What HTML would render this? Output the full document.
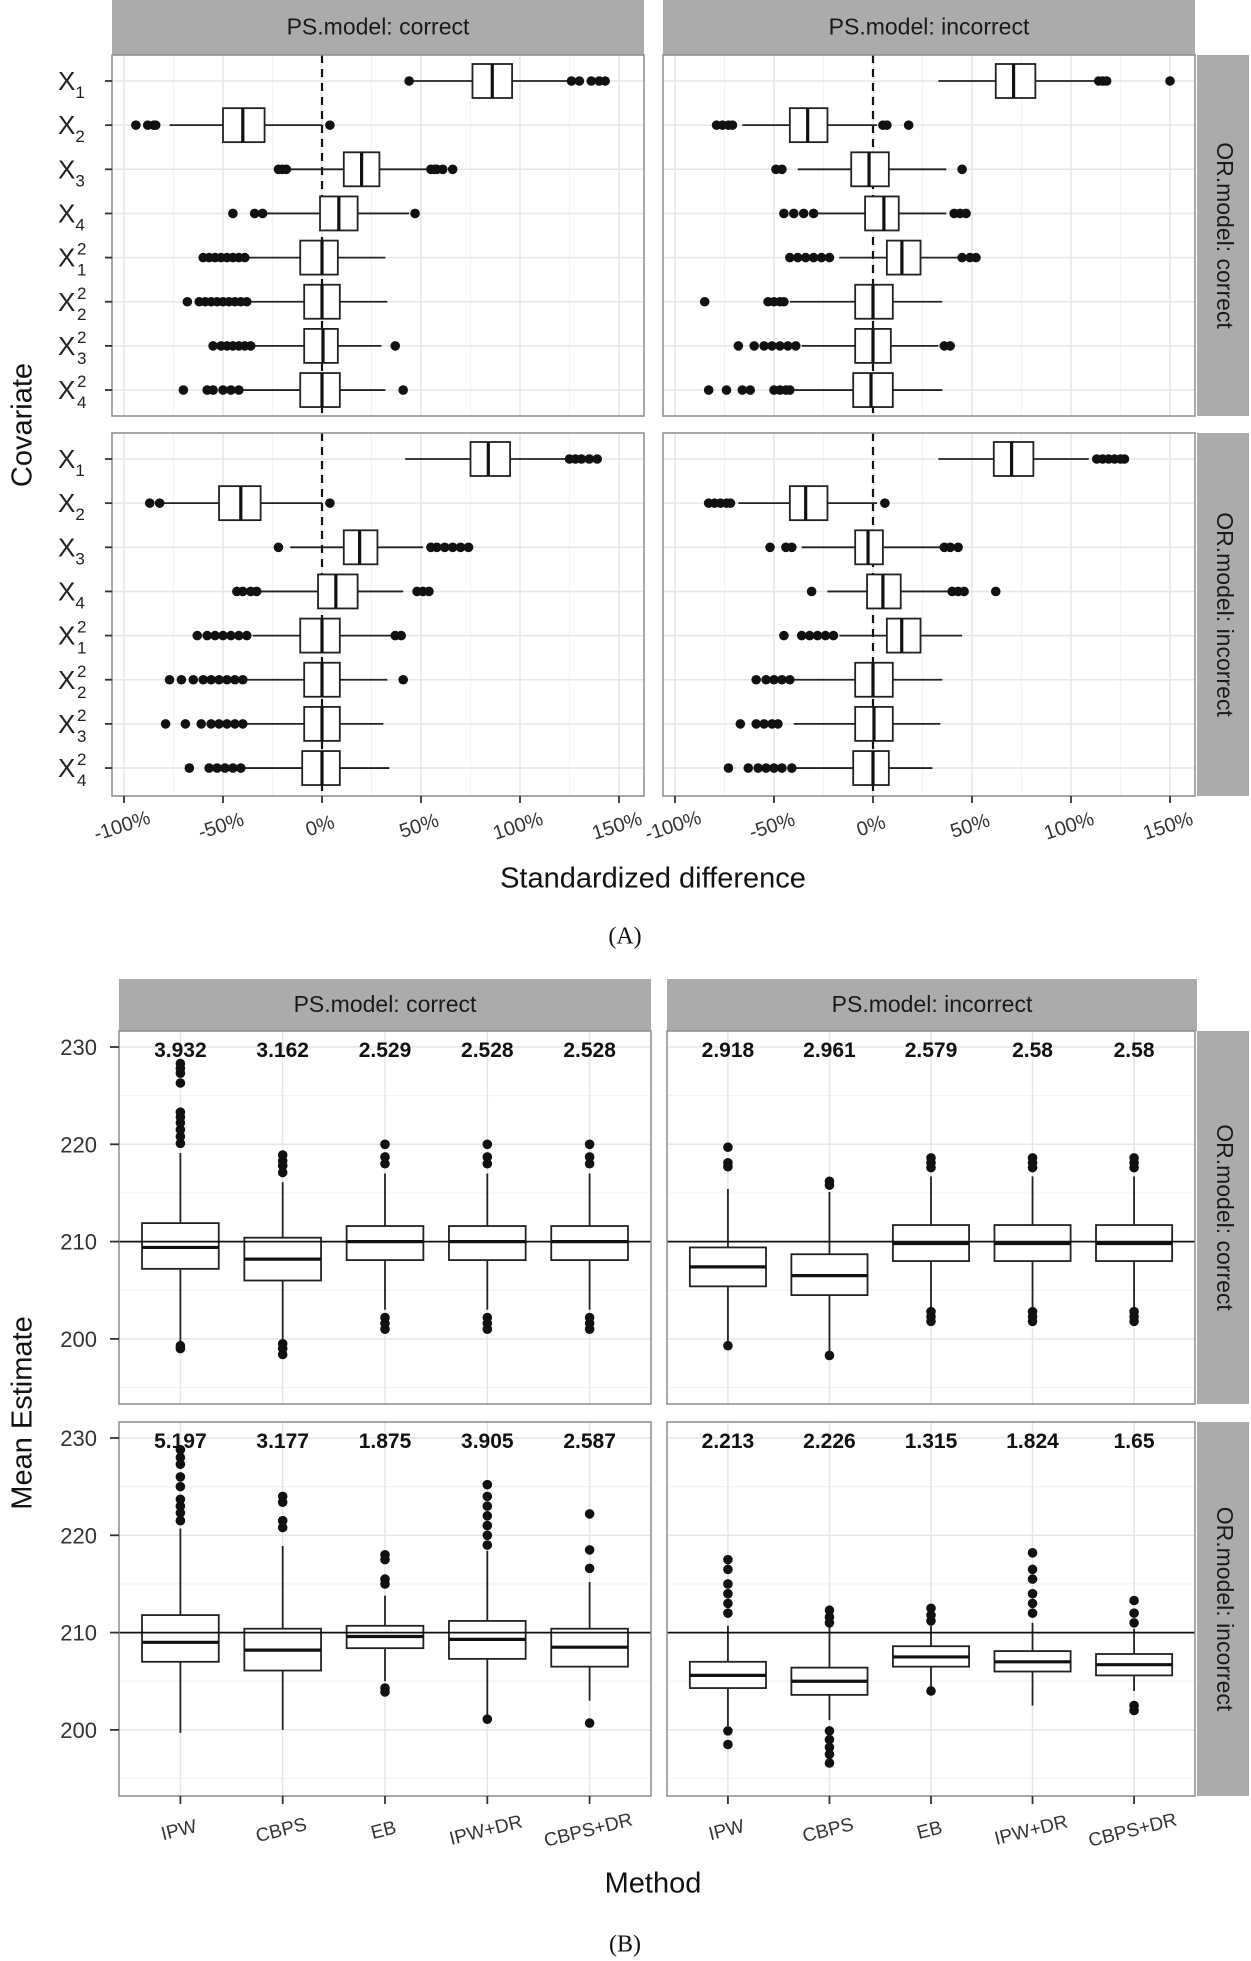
<!DOCTYPE html>
<html>
<head>
<meta charset="utf-8">
<style>
html,body{margin:0;padding:0;background:#fff;}
svg{display:block;font-family:"Liberation Sans",sans-serif;}
</style>
</head>
<body>
<svg id="fig" width="1251" height="1961" viewBox="0 0 1251 1961" xmlns="http://www.w3.org/2000/svg">
  <rect x="0" y="0" width="1251" height="1961" fill="#fff"/>
  <text x="0" y="0" transform="translate(24,425) rotate(-90)" font-size="29" text-anchor="middle" dominant-baseline="middle" fill="#111">Covariate</text>
  <text x="653" y="880" font-size="29" text-anchor="middle" dominant-baseline="middle" fill="#111">Standardized difference</text>
  <text x="625" y="938" font-size="24" text-anchor="middle" dominant-baseline="middle" font-family="Liberation Serif, serif" fill="#111">(A)</text>
  <text x="0" y="0" transform="translate(24,1413) rotate(-90)" font-size="29" text-anchor="middle" dominant-baseline="middle" fill="#111">Mean Estimate</text>
  <text x="653" y="1885" font-size="29" text-anchor="middle" dominant-baseline="middle" fill="#111">Method</text>
  <text x="625" y="1946" font-size="24" text-anchor="middle" dominant-baseline="middle" font-family="Liberation Serif, serif" fill="#111">(B)</text>
</svg>
<script>
// ---------- Part A data ----------
const covIndex = ['1','2','3','4','1','2','3','4'];
const covSquared = [false,false,false,false,true,true,true,true];
const aTicks = [-100,-50,0,50,100,150];
const aTickLabels = ['-100%','-50%','0%','50%','100%','150%'];
// [lower whisker, q1, median, q3, upper whisker]
const statsA_psC_orC = [[44,76,86,96,126],[-77,-50,-40,-29,0],[-16,11,20,29,54],[-28,-1,8.5,18,44],[-37,-11,0,8,32],[-37,-9,0,9,33],[-36,-9,0.5,8,30],[-42,-11,0,9,32]];
const outA_psC_orC = [[44,126,130,136,140,143],[-94,-88,-85,-84,4],[-22,-20,-18,55,57,58,61,66],[-45,-34,-30,47],[-60,-57,-54,-51,-48,-45,-42,-39],[-68,-62,-59,-56,-53,-50,-47,-44,-41,-38],[-55,-51,-48,-45,-42,-39,-36,37],[-70,-58,-55,-50,-46,-42,41]];
const statsA_psI_orC = [[33,62,71,82,113],[-66,-42,-33,-23,2],[-38,-11,-2,8,37],[-28,-4,5.5,13,37],[-17,7,14.6,24,43],[-42,-9,0,10,35],[-36,-9,0,9,33],[-40,-10,-1,10,35]];
const outA_psI_orC = [[114,116,118,150],[-79,-76,-73,-71,5,7,18],[-49,-46,45],[-45,-40,-35,-30,41,44,47],[-42,-38,-34,-30,-26,-22,45,49,52],[-85,-53,-50,-47,-45],[-68,-60,-55,-51,-47,-43,-39,36,39],[-83,-74,-66,-62,-50,-47,-44,-42]];
const statsA_psC_orI = [[42,75,84,95,123],[-80,-52,-41,-31,0],[-16,11,19,28,51],[-31,-2,7,18,41],[-35,-11,0,9,35],[-38,-9,0,9,33],[-38,-9,0,9,31],[-39,-10,0,9,34]];
const outA_psC_orI = [[125,128,131,135,139],[-87,-82,4],[-22,55,58,62,66,70,74],[-43,-40,-36,-33,48,51,54],[-63,-58,-54,-50,-46,-42,-38,37,40],[-77,-71,-65,-60,-56,-52,-48,-44,-40,41],[-79,-69,-61,-56,-52,-48,-44,-40],[-67,-57,-53,-49,-45,-41]];
const statsA_psI_orI = [[33,61,70,81,109],[-68,-42,-34,-23,2],[-36,-9,-2.5,5,35],[-23,-3,5,14,38],[-17,7,14.5,24,45],[-40,-9,0,10,35],[-40,-9,0.5,10,34],[-39,-10,0,8,30]];
const outA_psI_orI = [[113,116,119,122,125,127],[-83,-80,-77,-74,-72,6],[-52,-44,-41,36,39,43],[-31,40,43,46,62],[-45,-36,-32,-28,-24,-20],[-59,-54,-50,-46,-42],[-67,-59,-55,-51,-48],[-73,-63,-58,-54,-50,-46,-41]];

// ---------- Part B data ----------
const methods = ['IPW','CBPS','EB','IPW+DR','CBPS+DR'];
const bTicks = [200,210,220,230];
const bRef = 210;
const labB_psC_orC = ['3.932','3.162','2.529','2.528','2.528'];
const labB_psI_orC = ['2.918','2.961','2.579','2.58','2.58'];
const labB_psC_orI = ['5.197','3.177','1.875','3.905','2.587'];
const labB_psI_orI = ['2.213','2.226','1.315','1.824','1.65'];
const statsB_psC_orC = [[199.5,207.2,209.4,211.9,219.1],[200,206,208.2,210.4,216.1],[203,208.1,210,211.6,217],[203,208.1,210,211.6,217],[203,208.1,210,211.6,217]];
const outB_psC_orC = [[199,199.3,220.1,220.8,221.5,222.2,222.8,223.3,226.3,227.3,227.8,228.3],[198.4,199,199.5,217.1,217.8,218.3,218.9],[201,201.6,202.2,218,218.7,220],[201,201.6,202.2,218,218.7,220],[201,201.6,202.2,218,218.7,220]];
const statsB_psI_orC = [[199.5,205.4,207.4,209.4,215.4],[198.5,204.5,206.5,208.7,215.1],[203.2,208,209.8,211.7,216.7],[203.2,208,209.8,211.7,216.7],[203.2,208,209.8,211.7,216.7]];
const outB_psI_orC = [[199.3,217.7,218.1,219.7],[198.3,215.8,216.2],[201.8,202.3,202.8,217.6,218.1,218.6],[201.8,202.3,202.8,217.6,218.1,218.6],[201.8,202.3,202.8,217.6,218.1,218.6]];
const statsB_psC_orI = [[199.7,207,209,211.8,220.7],[200,206.1,208.2,210.4,218.9],[205,208.4,209.6,210.7,213.8],[201.1,207.3,209.3,211.2,218.4],[203,206.5,208.5,210.4,215.2]];
const outB_psC_orI = [[221.5,222.3,223,223.7,225,226,227.3,228,228.8],[220.8,221.5,223.4,224],[204.3,203.9,215,215.5,217.5,218],[201.1,219,220,221,222,223,224,225.2],[200.7,216.6,218.5,222.2]];
const statsB_psI_orI = [[200.4,204.3,205.6,207,210.7],[201,203.6,205,206.4,210.7],[204,206.5,207.5,208.6,210.7],[202.5,206,207,208.1,211],[204,205.6,206.7,207.8,210.4]];
const outB_psI_orI = [[212,213,214,215,216.5,217.5,199.9,198.5],[211,211.6,212.3,199.9,199,198.2,197.5,196.6],[204,211.2,211.8,212.5],[212,213,214,215.5,216.5,218.2],[211,212,213.3,202.5,202]];

const NS = 'http://www.w3.org/2000/svg';
const svg = document.getElementById('fig');
function mk(tag, attrs, parent){
  const e = document.createElementNS(NS, tag);
  for (const k in attrs) e.setAttribute(k, attrs[k]);
  (parent||svg).appendChild(e);
  return e;
}
const GRID_MAJ = '#e6e6e6', GRID_MIN = '#f3f3f3', BORDER = '#8c8c8c', STRIP = '#ababab';

function strip(x, y, w, h, label, vertical){
  const r = mk('rect', {x:x, y:y, width:w, height:h, fill:STRIP});
  
  
  let t;
  if (vertical){
    t = mk('text', {x:0, y:0, transform:'translate('+(x+w/2)+','+(y+h/2)+') rotate(90)', 'font-size':23, 'text-anchor':'middle', 'dominant-baseline':'middle', fill:'#1a1a1a'});
  } else {
    t = mk('text', {x:x+w/2, y:y+h/2+1, 'font-size':23, 'text-anchor':'middle', 'dominant-baseline':'middle', fill:'#1a1a1a'});
  }
  t.textContent = label;
  
  
}

// ---------- Part A panels ----------
const A_ROW0 = 26, A_ROWSTEP = 44.15, A_PX = 1.98;
function drawPanelA(x0, x1, y0, y1, zeroX, stats, outs, showY, showX, name){
  const sx = v => zeroX + v*A_PX;
  const sy = i => y0 + A_ROW0 + i*A_ROWSTEP;
  const bg = mk('rect', {x:x0, y:y0, width:x1-x0, height:y1-y0, fill:'#fff'});
  
  
  for (let i=0;i<aTicks.length-1;i++){
    const m = (aTicks[i]+aTicks[i+1])/2;
    const l = mk('line', {x1:sx(m), x2:sx(m), y1:y0, y2:y1, stroke:GRID_MIN, 'stroke-width':1.2});
    
    
  }
  aTicks.forEach(v => {
    const l = mk('line', {x1:sx(v), x2:sx(v), y1:y0, y2:y1, stroke:GRID_MAJ, 'stroke-width':1.5});
    
    
  });
  covIndex.forEach((c,i) => {
    const l = mk('line', {x1:x0, x2:x1, y1:sy(i), y2:sy(i), stroke:GRID_MAJ, 'stroke-width':1.5});
    
    
  });
  const z = mk('line', {x1:sx(0), x2:sx(0), y1:y0, y2:y1, stroke:'#111', 'stroke-width':2.2, 'stroke-dasharray':'8,6'});
  
  
  const bh = 34;
  stats.forEach((s,i) => {
    const y = sy(i);
    const g = mk('g', {});
    
    
    mk('line', {x1:sx(s[0]), x2:sx(s[1]), y1:y, y2:y, stroke:'#222', 'stroke-width':1.8}, g);
    mk('line', {x1:sx(s[3]), x2:sx(s[4]), y1:y, y2:y, stroke:'#222', 'stroke-width':1.8}, g);
    mk('rect', {x:sx(s[1]), y:y-bh/2, width:sx(s[3])-sx(s[1]), height:bh, fill:'#fff', stroke:'#222', 'stroke-width':1.8}, g);
    mk('line', {x1:sx(s[2]), x2:sx(s[2]), y1:y-bh/2, y2:y+bh/2, stroke:'#111', 'stroke-width':3.2}, g);
    outs[i].forEach(v => {
      const c = mk('circle', {cx:sx(v), cy:y, r:4.8, fill:'#111'}, g);
      
      
    });
  });
  const br = mk('rect', {x:x0, y:y0, width:x1-x0, height:y1-y0, fill:'none', stroke:BORDER, 'stroke-width':1.5});
  
  
  if (showY){
    covIndex.forEach((c,i) => {
      const y = sy(i);
      const tk = mk('line', {x1:x0-7, x2:x0, y1:y, y2:y, stroke:'#333', 'stroke-width':1.8});
      
      
      const t = mk('text', {x:58, y:y+9, 'font-size':26, fill:'#222'});
      
      
      const tx = mk('tspan', {}, t); tx.textContent = 'X';
      if (covSquared[i]){
        const sp = mk('tspan', {x:77, dy:-12, 'font-size':17}, t); sp.textContent = '2';
        const sb = mk('tspan', {x:77, dy:21, 'font-size':17}, t); sb.textContent = c;
      } else {
        const sb = mk('tspan', {dy:8, 'font-size':17}, t); sb.textContent = c;
      }
    });
  }
  if (showX){
    aTicks.forEach((v,i) => {
      const tk = mk('line', {x1:sx(v), x2:sx(v), y1:y1, y2:y1+7, stroke:'#333', 'stroke-width':1.8});
      
      
      const t = mk('text', {x:0, y:0, transform:'translate('+sx(v)+','+(y1+36)+') rotate(-18)', 'font-size':20, 'text-anchor':'middle', fill:'#333'});
      t.textContent = aTickLabels[i];
      
      
    });
  }
}
strip(112, 0, 532, 55, 'PS.model: correct', false);
strip(663, 0, 532, 55, 'PS.model: incorrect', false);
strip(1197, 55, 52, 361, 'OR.model: correct', true);
strip(1197, 433, 52, 363, 'OR.model: incorrect', true);
drawPanelA(112, 644, 55, 416, 322, statsA_psC_orC, outA_psC_orC, true, false, 'panel-a-ps-correct-or-correct');
drawPanelA(663, 1195, 55, 416, 873, statsA_psI_orC, outA_psI_orC, false, false, 'panel-a-ps-incorrect-or-correct');
drawPanelA(112, 644, 433, 796, 322, statsA_psC_orI, outA_psC_orI, true, true, 'panel-a-ps-correct-or-incorrect');
drawPanelA(663, 1195, 433, 796, 873, statsA_psI_orI, outA_psI_orI, false, true, 'panel-a-ps-incorrect-or-incorrect');

// ---------- Part B panels ----------
const B_PY = 9.73;
function drawPanelB(x0, x1, y0, y1, stats, outs, labels, showY, showX, name){
  const unit = (x1-x0)/5.2;
  const sx = i => x0 + unit*(0.6+i);
  const y230 = y0 + 16;
  const sy = v => y230 + (230 - v)*B_PY;
  const bg = mk('rect', {x:x0, y:y0, width:x1-x0, height:y1-y0, fill:'#fff'});
  
  
  [195,205,215,225].forEach(v => {
    const l = mk('line', {x1:x0, x2:x1, y1:sy(v), y2:sy(v), stroke:GRID_MIN, 'stroke-width':1.2});
    
    
  });
  bTicks.forEach(v => {
    const l = mk('line', {x1:x0, x2:x1, y1:sy(v), y2:sy(v), stroke:GRID_MAJ, 'stroke-width':1.5});
    
    
  });
  methods.forEach((m,i) => {
    const l = mk('line', {x1:sx(i), x2:sx(i), y1:y0, y2:y1, stroke:GRID_MAJ, 'stroke-width':1.5});
    
    
  });
  const bw = unit*0.75;
  stats.forEach((s,i) => {
    const x = sx(i);
    const g = mk('g', {});
    
    
    mk('line', {x1:x, x2:x, y1:sy(s[0]), y2:sy(s[1]), stroke:'#222', 'stroke-width':1.8}, g);
    mk('line', {x1:x, x2:x, y1:sy(s[3]), y2:sy(s[4]), stroke:'#222', 'stroke-width':1.8}, g);
    mk('rect', {x:x-bw/2, y:sy(s[3]), width:bw, height:sy(s[1])-sy(s[3]), fill:'#fff', stroke:'#222', 'stroke-width':1.8}, g);
    mk('line', {x1:x-bw/2, x2:x+bw/2, y1:sy(s[2]), y2:sy(s[2]), stroke:'#111', 'stroke-width':3.2}, g);
    outs[i].forEach(v => {
      const c = mk('circle', {cx:x, cy:sy(v), r:4.8, fill:'#111'}, g);
      
      
    });
    const t = mk('text', {x:x, y:sy(229.8)+8, 'font-size':21, 'font-weight':'bold', 'text-anchor':'middle', fill:'#111'});
    t.textContent = labels[i];
    
    
  });
  const ref = mk('line', {x1:x0, x2:x1, y1:sy(bRef), y2:sy(bRef), stroke:'#111', 'stroke-width':1.8});
  
  
  const br = mk('rect', {x:x0, y:y0, width:x1-x0, height:y1-y0, fill:'none', stroke:BORDER, 'stroke-width':1.5});
  
  
  if (showY){
    bTicks.forEach(v => {
      const tk = mk('line', {x1:x0-9, x2:x0, y1:sy(v), y2:sy(v), stroke:'#333', 'stroke-width':1.8});
      
      
      const t = mk('text', {x:97, y:sy(v)+8, 'font-size':22, 'text-anchor':'end', fill:'#333'});
      t.textContent = v;
      
      
    });
  }
  if (showX){
    methods.forEach((m,i) => {
      const tk = mk('line', {x1:sx(i), x2:sx(i), y1:y1, y2:y1+8, stroke:'#333', 'stroke-width':1.8});
      
      
      const t = mk('text', {x:0, y:0, transform:'translate('+sx(i)+','+(y1+40)+') rotate(-14)', 'font-size':19, 'text-anchor':'middle', fill:'#333'});
      t.textContent = m;
      
      
    });
  }
}
strip(119, 979, 532, 52, 'PS.model: correct', false);
strip(667, 979, 530, 52, 'PS.model: incorrect', false);
strip(1197, 1031, 52, 373, 'OR.model: correct', true);
strip(1197, 1422, 52, 374, 'OR.model: incorrect', true);
drawPanelB(119, 651, 1031, 1404, statsB_psC_orC, outB_psC_orC, labB_psC_orC, true, false, 'panel-b-ps-correct-or-correct');
drawPanelB(667, 1195, 1031, 1404, statsB_psI_orC, outB_psI_orC, labB_psI_orC, false, false, 'panel-b-ps-incorrect-or-correct');
drawPanelB(119, 651, 1422, 1796, statsB_psC_orI, outB_psC_orI, labB_psC_orI, true, true, 'panel-b-ps-correct-or-incorrect');
drawPanelB(667, 1195, 1422, 1796, statsB_psI_orI, outB_psI_orI, labB_psI_orI, false, true, 'panel-b-ps-incorrect-or-incorrect');
</script>
</body>
</html>
